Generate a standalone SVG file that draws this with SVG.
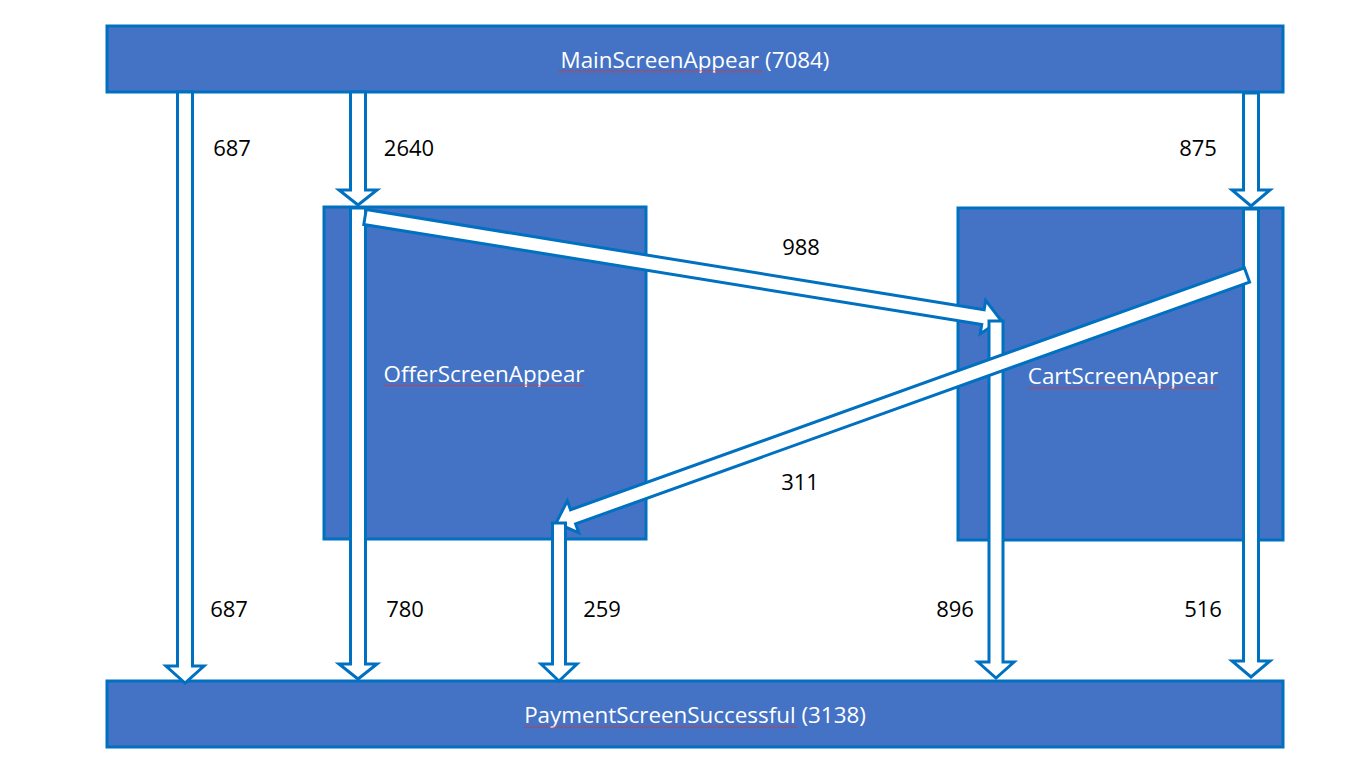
<svg xmlns="http://www.w3.org/2000/svg" width="1366" height="766" viewBox="0 0 1366 766">
<style>
.box{fill:#4472C4;stroke:#0070C0;stroke-width:3}
.arr{fill:#FFFFFF;stroke:#0070C0;stroke-width:3;stroke-linejoin:miter}
.nt{font-family:"Open Sans","Liberation Sans",sans-serif;font-size:22.4px;fill:#FFFFFF;text-anchor:middle}
.lb{font-family:"Open Sans","Liberation Sans",sans-serif;font-size:22px;fill:#000000;text-anchor:middle}
.sq{fill:url(#squiggle)}
</style>
<defs>
<pattern id="squiggle" patternUnits="userSpaceOnUse" x="0" y="0" width="4" height="3">
<path d="M0,2.4 L2,0.6 L4,2.4" fill="none" stroke="#E03030" stroke-width="0.8"/>
</pattern>
</defs>
<rect width="1366" height="766" fill="#FFFFFF"/>
<g id="node-main">
<rect class="box" x="107" y="26" width="1176" height="66"/>
<text class="nt" x="695" y="68">MainScreenAppear (7084)</text>
<rect class="sq" x="558" y="70" width="205" height="3"/>
</g>
<g id="node-payment">
<rect class="box" x="107" y="681" width="1176" height="66"/>
<text class="nt" x="695" y="723">PaymentScreenSuccessful (3138)</text>
<rect class="sq" x="524" y="725" width="273" height="3"/>
</g>
<g id="node-offer">
<rect class="box" x="324" y="207" width="322" height="332"/>
<text class="nt" x="484" y="382">OfferScreenAppear</text>
<rect class="sq" x="384" y="384" width="200" height="3"/>
</g>
<g id="node-cart">
<rect class="box" x="958" y="208" width="325" height="332"/>
<text class="nt" x="1123" y="384">CartScreenAppear</text>
<rect class="sq" x="1028" y="386" width="190" height="3"/>
</g>
<g id="connectors">
<polygon class="arr" points="177.5,92 192.5,92 192.5,666 204,666 185,683 166,666 177.5,666"/>
<polygon class="arr" points="350.5,92 365.5,92 365.5,190 377,190 358,205 339,190 350.5,190"/>
<polygon class="arr" points="1243.5,93 1258.5,93 1258.5,190 1270,190 1251,206 1232,190 1243.5,190"/>
<polygon class="arr" points="350.5,208 365.5,208 365.5,664 377,664 358,679 339,664 350.5,664"/>
<polygon class="arr" points="1243.5,209 1258.5,209 1258.5,661 1270,661 1251,677 1232,661 1243.5,661"/>
<polygon class="arr" transform="translate(365,217) rotate(9.2)" points="0,-7.5 626,-7.5 626,-17 644,0 626,17 626,7.5 0,7.5"/>
<polygon class="arr" points="989,321 1003,321 1003,662 1014,662 996,678 978,662 989,662"/>
<polygon class="arr" transform="translate(1247,275) rotate(160.26)" points="0,-7.5 716,-7.5 716,-17 734,0 716,17 716,7.5 0,7.5"/>
<polygon class="arr" points="552.5,523 565.5,523 565.5,664 577,664 559,681 541,664 552.5,664"/>
</g>
<g id="labels">
<text class="lb" x="232" y="156">687</text>
<text class="lb" x="409" y="156">2640</text>
<text class="lb" x="1198" y="156">875</text>
<text class="lb" x="801" y="255">988</text>
<text class="lb" x="800" y="490">311</text>
<text class="lb" x="229" y="617">687</text>
<text class="lb" x="405" y="617">780</text>
<text class="lb" x="602" y="617">259</text>
<text class="lb" x="955" y="617">896</text>
<text class="lb" x="1203" y="617">516</text>
</g>
</svg>
